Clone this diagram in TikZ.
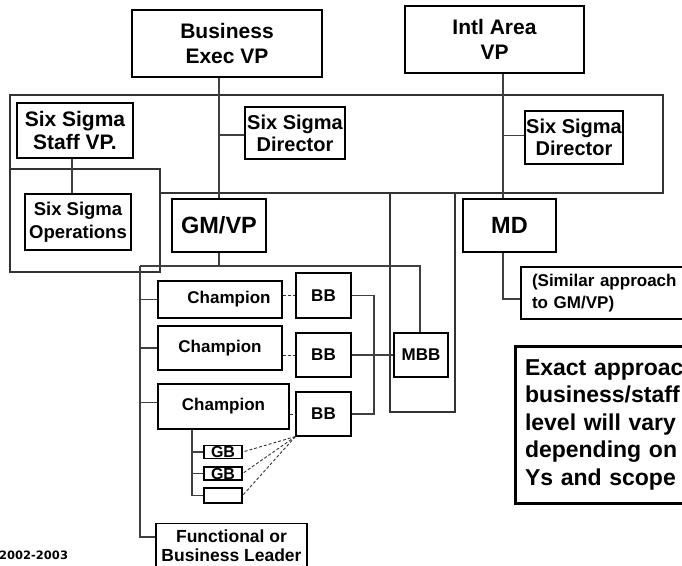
\documentclass[tikz,border=0pt]{standalone}
\usepackage{fontspec}
\setmainfont{Liberation Sans}
\newfontfamily\dejavu{DejaVu Sans}
\usetikzlibrary{calc}
\tikzset{
  box/.style={draw=black, line width=1.1pt, fill=white, inner sep=0pt, align=center, font=\bfseries\fontsize{#1}{1.25\dimexpr#1pt\relax}\selectfont},
  box/.default=17,
  conn/.style={draw=black!75, line width=1.1pt},
  dconn/.style={draw=black!80, line width=0.9pt, dash pattern=on 3pt off 2pt},
  frame/.style={draw=black!80, line width=1.1pt}
}
\begin{document}
\begin{tikzpicture}[x=1pt,y=-1pt]
\useasboundingbox (0,0) rectangle (682,565);
\clip (0,0) rectangle (682,565);
\fill[white] (0,0) rectangle (682,565);
% frames
\draw[frame] (10,95) rectangle (663,193);
\draw[frame, fill=white] (10,169) rectangle (160,272);
\draw[frame] (390,193) rectangle (455,412);
% nodes
\node[box=21, minimum width=190, minimum height=67] (bev) at (227,43.5) {Business\\[-2pt]Exec VP};
\node[box=21, minimum width=179, minimum height=67] (iav) at (494.5,39.5) {Intl Area\\[-2pt]VP};
\node[box=21, minimum width=116, minimum height=55] (ssvp) at (75,130.5) {Six Sigma\\[-3pt]Staff VP.};
\node[box=18.5, minimum width=106, minimum height=56] (ssops) at (78,222) {Six Sigma\\Operations};
\node[box=20, minimum width=100, minimum height=52] (dir1) at (295,133) {Six Sigma\\[-3pt]Director};
\node[box=20, minimum width=98, minimum height=53] (dir2) at (574,137.5) {Six Sigma\\[-3pt]Director};
\node[box=23.5, minimum width=94, minimum height=53] (gmvp) at (219,225.5) {GM/VP};
\node[box=23.5, minimum width=93, minimum height=53] (md) at (509.5,225.5) {MD};
\node[box=17, minimum width=54, minimum height=44] (mbb) at (421,355) {MBB};
\node[box=17, minimum width=124, minimum height=37, text width=124] (ch1) at (220,299.5) {\hspace*{18pt}Champion};
\node[box=17, minimum width=124, minimum height=44] (ch2) at (220,348) {Champion};
\node[box=17, minimum width=131, minimum height=45] (ch3) at (223.5,406.5) {Champion};
\node[box=17, minimum width=55, minimum height=45] (bb1) at (323.5,295.5) {BB};
\node[box=17, minimum width=55, minimum height=44] (bb2) at (323.5,355) {BB};
\node[box=17, minimum width=55, minimum height=44] (bb3) at (323.5,414) {BB};
\node[box=16, minimum width=38, minimum height=13] (gb1) at (223,452) {GB};
\node[box=16, minimum width=38, minimum height=13] (gb2) at (223,473.5) {GB};
\node[box=16, minimum width=38, minimum height=15] (gb3) at (223,495.5) {};
\node[box=17.5, minimum width=151, inner ysep=6.5pt, anchor=north, font=\bfseries\fontsize{17.5}{18.5}\selectfont] (fbl) at (231.5,523) {Functional or\\Business Leader};
\node[box=17, minimum width=179, minimum height=52, text width=157, align=left] (sim) at (610.5,293) {(Similar approach\\to GM/VP)};
\node[box=23, line width=3pt, minimum width=205, minimum height=157, text width=185, align=left,
      font=\bfseries\fontsize{23}{27.5}\selectfont] (exact) at (617.5,424.5) {Exact approach\\business/staff\\level will vary\\depending on\\Ys and scope};
\node[anchor=west, inner sep=0pt, font=\dejavu\bfseries\fontsize{11.5}{13}\selectfont] (yr) at (-1,555) {2002-2003};
% helper coordinates
\coordinate (busL) at (140,266);
\coordinate (busR) at (420,266);
\coordinate (ivl) at (503,0);
\coordinate (vx) at (374,0);
\coordinate (gbv) at (192,0);
\coordinate (fblc) at (156,537);
% connectors
\draw[conn] (bev.south -| gmvp.north) -- (gmvp.north);
\draw[conn] (gmvp.north |- dir1.west) ++(0,2) -- ($(dir1.west)+(0,2)$);
\draw[conn] (ssvp.south -| 72,0) -- (ssops.north -| 72,0);
\draw[conn] (iav.south -| ivl) -- (md.north -| ivl);
\draw[conn] (ivl |- dir2.west) ++(0,-2) -- ($(dir2.west)+(0,-2)$);
\draw[conn] (md.south -| ivl) |- ($(sim.west)+(0,6)$);
\draw[conn] (gmvp.south) -- (gmvp.south |- busL);
\draw[conn] (busL) -- (busR) -- (mbb.north -| busR);
\draw[conn] (busL) |- (fbl.west |- fblc);
\draw[conn] (busL |- ch1.west) -- (ch1.west);
\draw[conn] (busL |- ch2.west) -- (ch2.west);
\draw[conn] (busL |- ch3.west) ++(0,-4) -- ($(ch3.west)+(0,-4)$);
\draw[dconn] (ch1.east |- bb1.west) -- (bb1.west);
\draw[dconn] (ch2.east |- bb2.west) -- (bb2.west);
\draw[dconn] (ch3.east |- bb3.west) -- (bb3.west);
\draw[conn] (bb1.east) -- (bb1.east -| vx) -- (bb3.east -| vx) -- (bb3.east);
\draw[conn] (bb2.east) -- (mbb.west);
\draw[conn] (ch3.south -| gbv) -- (gb3.west -| gbv);
\draw[conn] (gb1.west -| gbv) -- (gb1.west);
\draw[conn] (gb2.west -| gbv) -- (gb2.west);
\draw[conn] (gb3.west -| gbv) -- (gb3.west);
\draw[dconn] (bb3.south west) -- (gb1.east);
\draw[dconn] (bb3.south west) -- (gb2.east);
\draw[dconn] (bb3.south west) -- (gb3.east);
\end{tikzpicture}
\end{document}
